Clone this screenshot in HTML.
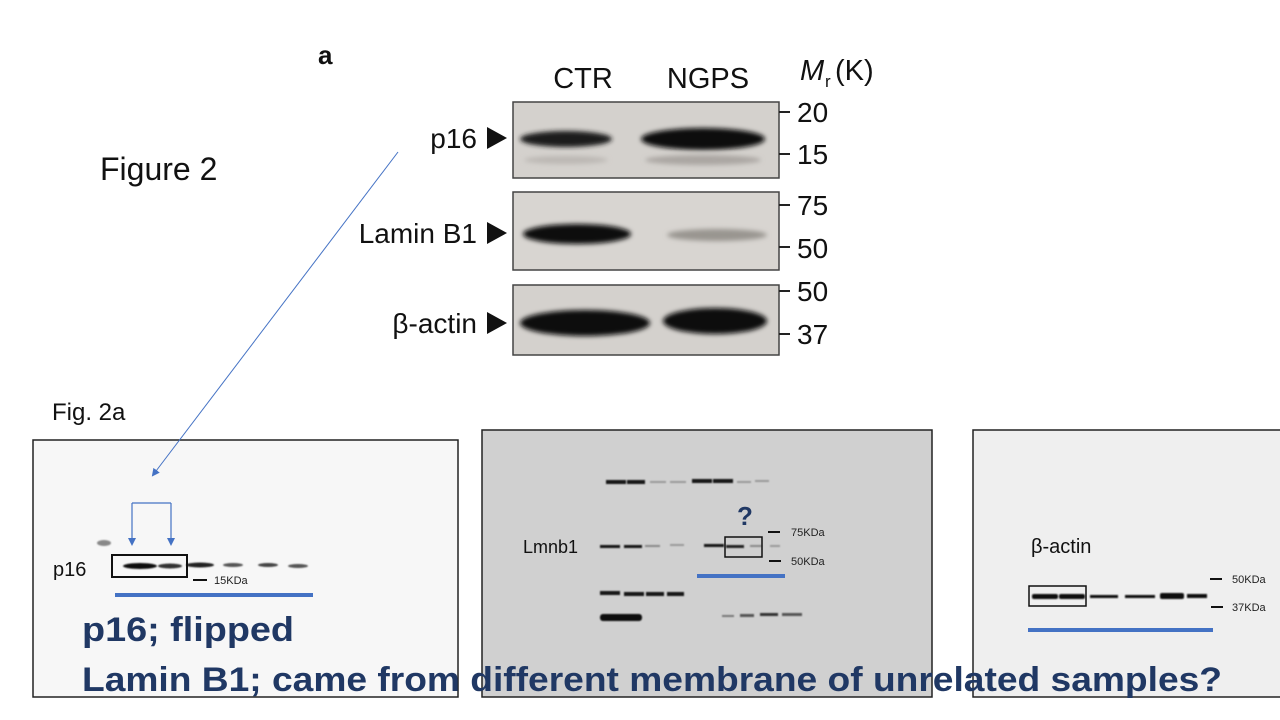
<!DOCTYPE html>
<html><head><meta charset="utf-8"><style>
html,body{margin:0;padding:0;background:#fff;width:1280px;height:720px;overflow:hidden}
svg{display:block}
.h{font-family:"Liberation Sans",Arial,sans-serif;fill:#111}
.c{font-family:"Liberation Sans",sans-serif}
.t{font-family:"Liberation Sans",sans-serif;font-weight:bold;fill:#203864}
</style></head><body>
<svg width="1280" height="720" viewBox="0 0 1280 720" xmlns="http://www.w3.org/2000/svg">
<defs>
<filter id="b" x="-20%" y="-100%" width="140%" height="300%"><feGaussianBlur stdDeviation="2.5"/></filter>
<filter id="s" x="-20%" y="-100%" width="140%" height="300%"><feGaussianBlur stdDeviation="0.8"/></filter>
<marker id="ar" markerWidth="8" markerHeight="8" refX="6" refY="4" orient="auto" markerUnits="userSpaceOnUse"><path d="M0,0 L8,4 L0,8 z" fill="#4472c4"/></marker>
</defs>
<rect width="1280" height="720" fill="#fff"/>

<text x="318" y="64" class="h" font-size="26" font-weight="bold">a</text>
<text x="583" y="88" class="h" font-size="29" text-anchor="middle">CTR</text>
<text x="708" y="88" class="h" font-size="29" text-anchor="middle">NGPS</text>
<text x="800" y="80" class="h" font-size="29" font-style="italic">M</text>
<text x="825" y="87" class="h" font-size="17">r</text>
<text x="835" y="80" class="h" font-size="29">(K)</text>

<rect x="513" y="102" width="266" height="76" fill="#d4d1cd" stroke="#444" stroke-width="1.5"/>
<rect x="513" y="192" width="266" height="78" fill="#d8d5d1" stroke="#444" stroke-width="1.5"/>
<rect x="513" y="285" width="266" height="70" fill="#d4d1cd" stroke="#444" stroke-width="1.5"/>
<g filter="url(#b)">
<ellipse cx="566" cy="139" rx="46" ry="8" fill="#1a1a1a"/>
<ellipse cx="703" cy="139" rx="62" ry="11" fill="#0a0a0a"/>
<ellipse cx="566" cy="160" rx="42" ry="4" fill="#bcb8b4"/>
<ellipse cx="703" cy="160" rx="58" ry="5" fill="#aaa6a2"/>
<ellipse cx="577" cy="234" rx="54" ry="10" fill="#0a0a0a"/>
<ellipse cx="717" cy="235" rx="50" ry="6" fill="#999590"/>
<ellipse cx="585" cy="323" rx="65" ry="13" fill="#0a0a0a"/>
<ellipse cx="715" cy="321" rx="52" ry="13" fill="#0a0a0a"/>
</g>
<g stroke="#222" stroke-width="2">
<line x1="779" y1="112" x2="790" y2="112"/><line x1="779" y1="154" x2="790" y2="154"/>
<line x1="779" y1="205" x2="790" y2="205"/><line x1="779" y1="247" x2="790" y2="247"/>
<line x1="779" y1="291" x2="790" y2="291"/><line x1="779" y1="334" x2="790" y2="334"/>
</g>
<g class="h" font-size="28">
<text x="797" y="122">20</text><text x="797" y="164">15</text>
<text x="797" y="215">75</text><text x="797" y="258">50</text>
<text x="797" y="301">50</text><text x="797" y="344">37</text>
</g>
<g class="h" font-size="28" text-anchor="end">
<text x="477" y="148">p16</text>
<text x="477" y="243">Lamin B1</text>
<text x="477" y="333">β-actin</text>
</g>
<g fill="#111">
<path d="M487,127 L507,138 L487,149 z"/>
<path d="M487,222 L507,233 L487,244 z"/>
<path d="M487,312 L507,323 L487,334 z"/>
</g>

<text x="100" y="180" class="c" font-size="32" fill="#111">Figure 2</text>
<text x="52" y="420" class="c" font-size="24" fill="#111">Fig. 2a</text>

<rect x="33" y="440" width="425" height="257" fill="#f7f7f7" stroke="#222" stroke-width="1.5"/>
<line x1="398" y1="152" x2="153" y2="475" stroke="#4472c4" stroke-width="1" marker-end="url(#ar)"/>
<g filter="url(#s)" fill="#111">
<ellipse cx="104" cy="543" rx="7" ry="3" fill="#888"/>
<ellipse cx="140" cy="566" rx="17" ry="3"/>
<ellipse cx="170" cy="566" rx="12" ry="2.5" fill="#333"/>
<ellipse cx="200" cy="565" rx="14" ry="2.5" fill="#222"/>
<ellipse cx="233" cy="565" rx="10" ry="2" fill="#555"/>
<ellipse cx="268" cy="565" rx="10" ry="2" fill="#444"/>
<ellipse cx="298" cy="566" rx="10" ry="2" fill="#555"/>
</g>
<rect x="112" y="555" width="75" height="22" fill="none" stroke="#111" stroke-width="2"/>
<text x="53" y="576" class="c" font-size="20" fill="#111">p16</text>
<line x1="193" y1="580" x2="207" y2="580" stroke="#111" stroke-width="2"/>
<text x="214" y="584" class="c" font-size="11" fill="#222">15KDa</text>
<path d="M132,503 L171,503" stroke="#4472c4" stroke-width="1.2" fill="none"/>
<line x1="132" y1="503" x2="132" y2="544" stroke="#4472c4" stroke-width="1.2" marker-end="url(#ar)"/>
<line x1="171" y1="503" x2="171" y2="544" stroke="#4472c4" stroke-width="1.2" marker-end="url(#ar)"/>
<rect x="115" y="593" width="198" height="4" fill="#4472c4"/>

<rect x="482" y="430" width="450" height="267" fill="#d0d0d0" stroke="#222" stroke-width="1.5"/>
<g filter="url(#s)">
<rect x="606" y="480" width="20" height="4" fill="#151515"/><rect x="627" y="480" width="18" height="4" fill="#151515"/>
<rect x="650" y="481" width="16" height="2" fill="#999"/><rect x="670" y="481" width="16" height="2" fill="#999"/>
<rect x="692" y="479" width="20" height="4" fill="#151515"/><rect x="713" y="479" width="20" height="4" fill="#151515"/>
<rect x="737" y="481" width="14" height="2" fill="#999"/><rect x="755" y="480" width="14" height="2" fill="#999"/>
<rect x="600" y="545" width="20" height="3" fill="#151515"/><rect x="624" y="545" width="18" height="3" fill="#151515"/>
<rect x="645" y="545" width="15" height="2" fill="#888"/><rect x="670" y="544" width="14" height="2" fill="#999"/>
<rect x="704" y="544" width="20" height="3" fill="#151515"/><rect x="726" y="545" width="18" height="3" fill="#222"/>
<rect x="750" y="545" width="12" height="2" fill="#888"/><rect x="770" y="545" width="10" height="2" fill="#999"/>
<rect x="600" y="591" width="20" height="4" fill="#151515"/><rect x="624" y="592" width="20" height="4" fill="#151515"/>
<rect x="646" y="592" width="18" height="4" fill="#151515"/><rect x="667" y="592" width="17" height="4" fill="#151515"/>
<rect x="600" y="614" width="42" height="7" rx="3" fill="#0a0a0a"/>
<rect x="722" y="615" width="12" height="2" fill="#777"/><rect x="740" y="614" width="14" height="3" fill="#555"/>
<rect x="760" y="613" width="18" height="3" fill="#333"/><rect x="782" y="613" width="20" height="3" fill="#555"/>
</g>
<text x="523" y="553" class="c" font-size="18" fill="#111">Lmnb1</text>
<rect x="725" y="537" width="37" height="20" fill="none" stroke="#111" stroke-width="1.5"/>
<text x="745" y="525" class="t" font-size="26" text-anchor="middle">?</text>
<line x1="768" y1="532" x2="780" y2="532" stroke="#111" stroke-width="2"/>
<text x="791" y="536" class="c" font-size="11" fill="#222">75KDa</text>
<line x1="769" y1="561" x2="781" y2="561" stroke="#111" stroke-width="2"/>
<text x="791" y="565" class="c" font-size="11" fill="#222">50KDa</text>
<rect x="697" y="574" width="88" height="4" fill="#4472c4"/>

<rect x="973" y="430" width="310" height="267" fill="#efefef" stroke="#222" stroke-width="1.5"/>
<g filter="url(#s)" fill="#111">
<rect x="1032" y="594" width="26" height="5" rx="2"/><rect x="1059" y="594" width="26" height="5" rx="2"/>
<rect x="1090" y="595" width="28" height="3"/><rect x="1125" y="595" width="30" height="3"/>
<rect x="1160" y="593" width="24" height="6" rx="2"/><rect x="1187" y="594" width="20" height="4"/>
</g>
<rect x="1029" y="586" width="57" height="20" fill="none" stroke="#111" stroke-width="1.5"/>
<text x="1031" y="553" class="c" font-size="20" fill="#111">β-actin</text>
<line x1="1210" y1="579" x2="1222" y2="579" stroke="#111" stroke-width="2"/>
<text x="1232" y="583" class="c" font-size="11" fill="#222">50KDa</text>
<line x1="1211" y1="607" x2="1223" y2="607" stroke="#111" stroke-width="2"/>
<text x="1232" y="611" class="c" font-size="11" fill="#222">37KDa</text>
<rect x="1028" y="628" width="185" height="4" fill="#4472c4"/>

<text x="82" y="641" class="t" font-size="34" textLength="212" lengthAdjust="spacingAndGlyphs">p16; flipped</text>
<text x="82" y="691" class="t" font-size="34" textLength="1140" lengthAdjust="spacingAndGlyphs">Lamin B1; came from different membrane of unrelated samples?</text>
</svg>
</body></html>
